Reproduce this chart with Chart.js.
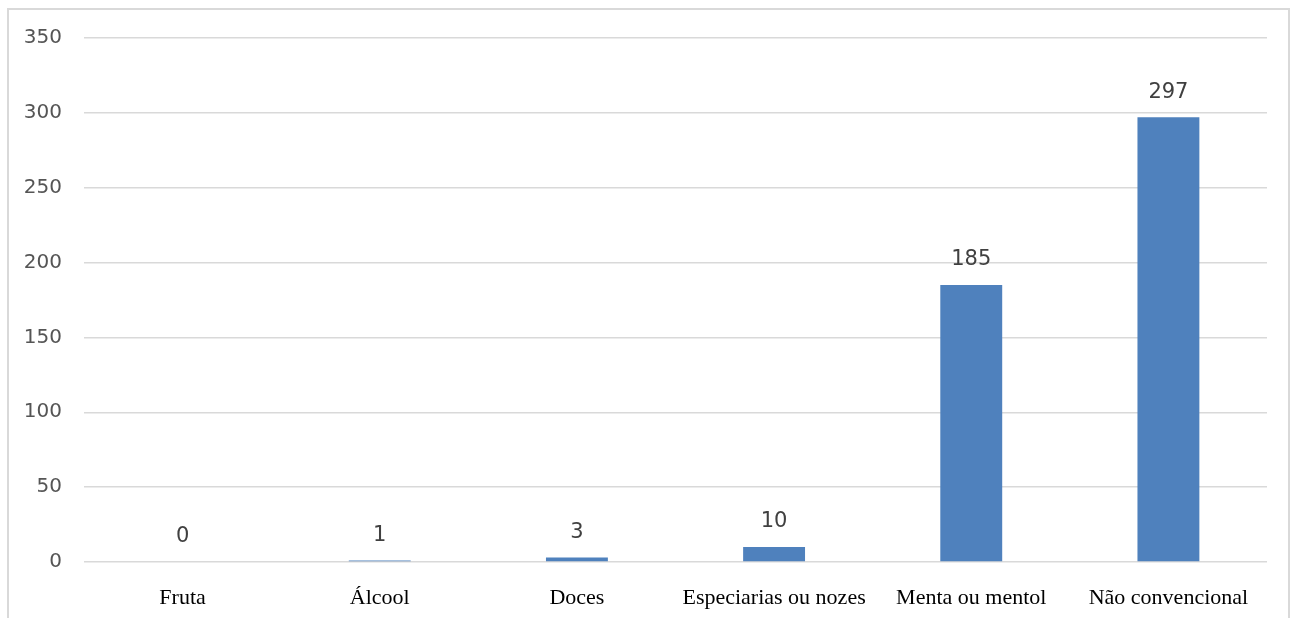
<!DOCTYPE html>
<html>
<head>
<meta charset="utf-8">
<script src="https://cdn.jsdelivr.net/npm/chart.js@4"></script>
<style>
  html, body { margin: 0; padding: 0; background: #fff; }
  #frame {
    position: absolute; left: 7px; top: 8px; width: 1283px; height: 640px;
    border: 2px solid #d9d9d9; box-sizing: border-box;
  }
  #wrap { position: absolute; left: 0; top: 0; width: 1295px; height: 618px; overflow: hidden; }
  canvas { position: absolute; left: 0; top: 0; }
</style>
</head>
<body>
<div id="wrap">
  <div id="frame"></div>
  <canvas id="chart" width="1295" height="618"></canvas>
</div>
<script>
const categories = ["Fruta", "Álcool", "Doces", "Especiarias ou nozes", "Menta ou mentol", "Não convencional"];
const counts = [0, 1, 3, 10, 185, 297];
const yTicks = [0, 50, 100, 150, 200, 250, 300, 350];

const BAR_COLOR = "#4f81bd";
const GRID_COLOR = "#d9d9d9";

// value labels above each bar
const barLabels = {
  id: "barLabels",
  afterDatasetsDraw(chart) {
    const ctx = chart.ctx;
    const meta = chart.getDatasetMeta(0);
    ctx.save();
    ctx.font = "21px 'DejaVu Sans'";
    ctx.fillStyle = "#404040";
    ctx.textAlign = "center";
    ctx.textBaseline = "middle";
    meta.data.forEach((bar, i) => {
      ctx.fillText(String(counts[i]), bar.x, bar.y - 25);
    });
    ctx.restore();
  },
};

new Chart(document.getElementById("chart"), {
  type: "bar",
  data: {
    labels: categories,
    datasets: [
      {
        data: counts,
        backgroundColor: BAR_COLOR,
        borderWidth: 0,
        categoryPercentage: 1,
        barPercentage: 0.314,
      },
    ],
  },
  options: {
    responsive: false,
    animation: false,
    layout: { padding: { top: 38, right: 28, bottom: 0, left: 0 } },
    scales: {
      x: {
        grid: { display: false },
        border: { display: false },
        ticks: {
          font: { family: "'Liberation Serif'", size: 22 },
          color: "#000",
          padding: 15,
          maxRotation: 0,
          autoSkip: false,
        },
        afterFit(scale) { scale.height = 56; },
      },
      y: {
        min: 0,
        max: 350,
        afterBuildTicks(scale) { scale.ticks = yTicks.map((v) => ({ value: v })); },
        grid: { color: GRID_COLOR, lineWidth: 1.5, drawTicks: false },
        border: { display: false },
        ticks: {
          font: { family: "'DejaVu Sans'", size: 20 },
          color: "#555555",
          padding: 22,
        },
        afterFit(scale) { scale.width = 84; },
      },
    },
    plugins: {
      legend: { display: false },
      tooltip: { enabled: false },
    },
  },
  plugins: [barLabels],
});
</script>
</body>
</html>
